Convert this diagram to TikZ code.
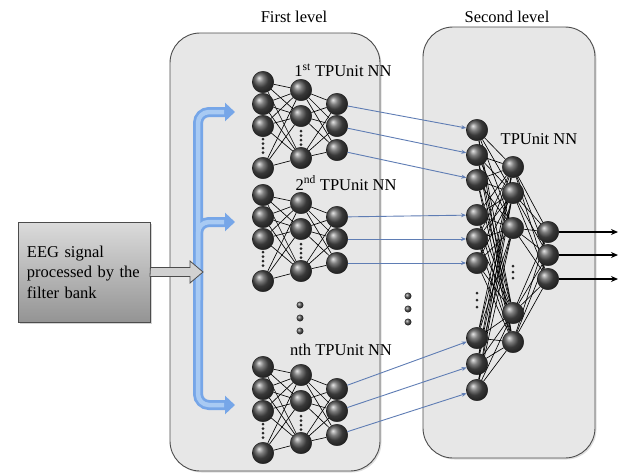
\documentclass[tikz,border=0pt]{standalone}
\usepackage{fontspec}
\setmainfont{Liberation Serif}
\usetikzlibrary{arrows.meta,shadows}

\definecolor{panelgray}{HTML}{E7E7E7}
\definecolor{feedblue}{RGB}{95,125,180}
\definecolor{bracketblue}{RGB}{118,166,232}
\definecolor{bracketlight}{RGB}{168,202,243}

\pgfdeclarelayer{panel}
\pgfdeclarelayer{wires}
\pgfsetlayers{panel,wires,main}

% one small three-layer network; #1 = name prefix, #2 = y of its top neuron
\newcommand{\tpnet}[2]{%
  \foreach \i/\o in {1/0,2/22,3/44,4/86} \node[neuron] (#1-a\i) at (263,#2+\o) {};
  \foreach \i/\o in {1/8,2/34,3/76} \node[neuron] (#1-b\i) at (301,#2+\o) {};
  \foreach \i/\o in {1/22,2/44,3/68} \node[neuron] (#1-c\i) at (337,#2+\o) {};
  \foreach \i/\o in {1/57,2/61.5,3/66,4/70.5} \node[tiny] (#1-da\i) at (263,#2+\o) {};
  \foreach \i/\o in {1/49,2/53.5,3/58,4/62.5} \node[tiny] (#1-db\i) at (301,#2+\o) {};
  \begin{pgfonlayer}{wires}
    \foreach \i in {1,...,4} \foreach \j in {1,2,3} \draw[wire] (#1-a\i) -- (#1-b\j);
    \foreach \i in {1,2,3} \foreach \j in {1,2,3} \draw[wire] (#1-b\i) -- (#1-c\j);
  \end{pgfonlayer}
}

\begin{document}
\begin{tikzpicture}[x=1pt,y=-1pt,
  neuron/.style={circle, minimum size=21.5pt, inner sep=0pt, shading=ball,
    ball color=black!68, draw=black!90, line width=0.4pt},
  tiny/.style={circle, fill=black!85, minimum size=3pt, inner sep=0pt},
  gap/.style={circle, minimum size=7pt, inner sep=0pt, shading=ball, ball color=black!68},
  wire/.style={line width=0.65pt, black},
  feed/.style={line width=0.9pt, feedblue, -{Stealth[length=5pt,width=4pt]}},
  outarrow/.style={line width=1.2pt, black, -{Stealth[length=7pt,width=6pt]}},
  panel/.style={rectangle, draw=black!70, line width=0.9pt, fill=panelgray,
    rounded corners=30pt, drop shadow={shadow xshift=1.5pt, shadow yshift=-1.5pt, opacity=0.25}},
  eegbox/.style={rectangle, draw=black!70, line width=0.8pt, top color=black!14,
    bottom color=black!42, align=left, text width=114pt, inner xsep=9pt,
    minimum width=132pt, minimum height=100pt,
    drop shadow={shadow xshift=2pt, shadow yshift=-2pt, opacity=0.35}},
  lbl/.style={font=\fontsize{16.5}{20}\selectfont},
  bracket/.style={line width=10pt, bracketblue, rounded corners=11pt,
    -{Triangle[length=10pt,width=18pt]}},
  bracketshine/.style={line width=4.5pt, bracketlight, rounded corners=11pt},
  blockarrow/.style={draw=black!70, line width=0.8pt, fill=black!18}
]
\useasboundingbox (0,0) rectangle (619,475);

% the two level panels
\begin{pgfonlayer}{panel}
  \node[panel, minimum width=210pt, minimum height=438pt] (lvl1) at (275,252) {};
  \node[panel, minimum width=172pt, minimum height=431pt] (lvl2) at (509,242.5) {};
\end{pgfonlayer}

\node[lbl] (t1) at (294,17) {First level};
\node[lbl] (t2) at (507,17) {Second level};

% input box
\node[eegbox, font=\fontsize{16.5}{20.5}\selectfont] (eeg) at (84,272)
  {EEG signal\\processed by the\\filter bank};

% distribution bracket
\coordinate (bt) at (235,112);
\coordinate (bm) at (235,222);
\coordinate (bb) at (235,405);
\draw[bracket] (198,300) |- (bt);
\draw[bracket] (198,300) |- (bm);
\draw[bracket] (198,300) |- (bb);
\draw[bracketshine] (198,300) |- ([xshift=-11pt]bt);
\draw[bracketshine] (198,300) |- ([xshift=-11pt]bm);
\draw[bracketshine] (198,300) |- ([xshift=-11pt]bb);

% arrow from the input box into the bracket
\draw[blockarrow] (eeg.east) ++(0,-4.5) -- (190,267.5) -- (190,261) -- (203,272)
  -- (190,283) -- (190,276.5) -- (150,276.5) -- cycle;

% first-level networks
\tpnet{n1}{82}
\tpnet{n2}{195}
\tpnet{n3}{367}
\node[lbl] (l1) at (343,70) {1\textsuperscript{st} TPUnit NN};
\node[lbl] (l2) at (346,183) {2\textsuperscript{nd} TPUnit NN};
\node[lbl] (l3) at (341,350) {nth TPUnit NN};

\foreach \i/\y in {1/305,2/318,3/331} \node[gap] (g\i) at (300,\y) {};
\foreach \i/\y in {1/296,2/309,3/322} \node[gap] (h\i) at (408,\y) {};

% second-level network
\foreach \i/\y in {1/130,2/155,3/180,4/215,5/239,6/263,7/338,8/364,9/390}
  \node[neuron] (sa\i) at (477,\y) {};
\foreach \i/\y in {1/167,2/193,3/228,4/313,5/342}
  \node[neuron] (sb\i) at (513,\y) {};
\foreach \i/\y in {1/232,2/255,3/279}
  \node[neuron] (sc\i) at (548,\y) {};
\foreach \i/\y in {1/293,2/300,3/307} \node[tiny] (sda\i) at (477,\y) {};
\foreach \i/\y in {1/266,2/272,3/278} \node[tiny] (sdb\i) at (513,\y) {};
\node[lbl] (l4) at (539,139) {TPUnit NN};

\begin{pgfonlayer}{wires}
  \foreach \i in {1,...,9} \foreach \j in {1,...,5} \draw[wire] (sa\i) -- (sb\j);
  \foreach \i in {1,...,5} \foreach \j in {1,2,3} \draw[wire] (sb\i) -- (sc\j);
\end{pgfonlayer}

% first-level outputs feeding the second level
\foreach \n/\off in {n1/0,n2/3,n3/6}
  \foreach \i in {1,2,3} {
    \pgfmathtruncatemacro{\k}{\i+\off}
    \draw[feed] (\n-c\i) -- (sa\k);
  }

% outputs
\foreach \i/\y in {1/232,2/255,3/279} {
  \coordinate (o\i) at (618,\y);
  \draw[outarrow] (sc\i) -- (o\i);
}
\end{tikzpicture}
\end{document}
